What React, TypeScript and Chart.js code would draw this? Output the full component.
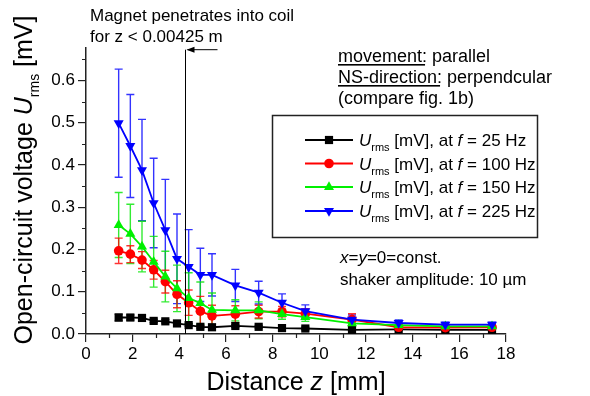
import React, { useEffect, useRef } from "react";
import { Chart, registerables } from "chart.js";

Chart.register(...registerables);

// ---- data ----
const distances = [1.4, 1.9, 2.4, 2.9, 3.4, 3.9, 4.4, 4.9, 5.4, 6.4, 7.4, 8.4, 9.4, 11.4, 13.4, 15.4, 17.4];

const u25 = [0.039, 0.039, 0.038, 0.031, 0.030, 0.025, 0.021, 0.017, 0.016, 0.019, 0.017, 0.014, 0.013, 0.010, 0.011, 0.010, 0.010];
const e25 = [0.008, 0.006, 0.006, 0.004, 0.004, 0.004, 0.003, 0.003, 0.003, 0.003, 0.003, 0.003, 0.003, 0.003, 0.003, 0.003, 0.003];

const u100 = [0.197, 0.189, 0.175, 0.152, 0.124, 0.094, 0.074, 0.054, 0.043, 0.047, 0.053, 0.053, 0.048, 0.034, 0.016, 0.015, 0.016];
const e100 = [0.030, 0.020, 0.020, 0.022, 0.027, 0.032, 0.030, 0.035, 0.025, 0.020, 0.015, 0.012, 0.012, 0.014, 0.006, 0.005, 0.005];

const u150 = [0.258, 0.237, 0.207, 0.171, 0.136, 0.108, 0.085, 0.073, 0.057, 0.056, 0.056, 0.047, 0.040, 0.025, 0.021, 0.018, 0.018];
const e150 = [0.077, 0.070, 0.060, 0.060, 0.060, 0.055, 0.060, 0.050, 0.040, 0.025, 0.020, 0.012, 0.010, 0.008, 0.006, 0.005, 0.005];

const u225 = [0.499, 0.445, 0.388, 0.310, 0.246, 0.178, 0.159, 0.140, 0.140, 0.115, 0.098, 0.074, 0.054, 0.034, 0.026, 0.022, 0.022];
const e225 = [0.128, 0.122, 0.120, 0.106, 0.120, 0.106, 0.088, 0.063, 0.050, 0.038, 0.027, 0.021, 0.015, 0.011, 0.007, 0.006, 0.006];

const frequencies = ["25", "100", "150", "225"];
const seriesColors = ["#000000", "#ff0000", "#00f000", "#0000ff"];
const errorColors = ["rgba(0,0,0,0.85)", "rgba(255,0,0,0.8)", "rgba(0,230,0,0.8)", "rgba(0,0,255,0.8)"];
const markerStyles = ["rect", "circle", "triangle", "triangle"];
const markerRotations = [0, 0, 0, 180];

const xMin = 0;
const xMax = 18;
const yMin = 0;
const yMax = 0.677;
const penetrationZ = 4.25;

const FONT = '"Liberation Sans", Arial, Helvetica, sans-serif';

type Run = { t: string; italic?: boolean; size?: number; dy?: number; underline?: boolean };

function drawRuns(ctx: CanvasRenderingContext2D, runs: Run[], x: number, y: number, base: number, align: "left" | "center" = "left") {
  const fontFor = (r: Run) => `${r.italic ? "italic " : ""}${r.size ?? base}px ${FONT}`;
  const widths = runs.map((r) => {
    ctx.font = fontFor(r);
    return ctx.measureText(r.t).width;
  });
  const total = widths.reduce((a, b) => a + b, 0);
  let cx = align === "center" ? x - total / 2 : x;
  runs.forEach((r, i) => {
    ctx.font = fontFor(r);
    ctx.fillText(r.t, cx, y + (r.dy ?? 0));
    if (r.underline) ctx.fillRect(cx, y + 2, widths[i] - 2, 1.6);
    cx += widths[i];
  });
}

function drawMarker(ctx: CanvasRenderingContext2D, style: string, rot: number, x: number, y: number, r: number, color: string) {
  ctx.save();
  ctx.fillStyle = color;
  ctx.beginPath();
  if (style === "rect") {
    const s = r * Math.SQRT1_2;
    ctx.rect(x - s, y - s, 2 * s, 2 * s);
  } else if (style === "circle") {
    ctx.arc(x, y, r, 0, Math.PI * 2);
  } else {
    const a = (rot * Math.PI) / 180;
    for (let k = 0; k < 3; k++) {
      const ang = a + (k * 2 * Math.PI) / 3;
      const px = x + Math.sin(ang) * r;
      const py = y - Math.cos(ang) * r;
      if (k === 0) ctx.moveTo(px, py);
      else ctx.lineTo(px, py);
    }
    ctx.closePath();
  }
  ctx.fill();
  ctx.restore();
}

const errorBarPlugin = {
  id: "errorBars",
  beforeDatasetsDraw(chart: any) {
    const { ctx, scales } = chart;
    const xs = scales.x;
    const ys = scales.y;
    const sets = chart.data.datasets.slice().reverse();
    sets.forEach((ds: any) => {
      ctx.save();
      ctx.strokeStyle = ds.errColor;
      ctx.lineWidth = 1.4;
      ds.data.forEach((p: any, j: number) => {
        const px = xs.getPixelForValue(p.x);
        const top = ys.getPixelForValue(p.y + ds.errors[j]);
        const bot = ys.getPixelForValue(Math.max(0, p.y - ds.errors[j]));
        ctx.beginPath();
        ctx.moveTo(px, top);
        ctx.lineTo(px, bot);
        ctx.moveTo(px - 4, top);
        ctx.lineTo(px + 4, top);
        ctx.moveTo(px - 4, bot);
        ctx.lineTo(px + 4, bot);
        ctx.stroke();
      });
      ctx.restore();
    });
  },
};

const decorPlugin = {
  id: "decor",
  afterDraw(chart: any) {
    const { ctx, scales, chartArea } = chart;
    const xs = scales.x;
    const ys = scales.y;
    ctx.save();
    ctx.fillStyle = "#000";
    ctx.strokeStyle = "#222";
    ctx.textBaseline = "alphabetic";

    // minor ticks
    ctx.lineWidth = 1.2;
    ctx.beginPath();
    for (let v = 1; v < xMax; v += 2) {
      const px = Math.round(xs.getPixelForValue(v)) + 0.5;
      ctx.moveTo(px, chartArea.bottom);
      ctx.lineTo(px, chartArea.bottom + 4);
    }
    for (let v = 0.05; v < yMax; v += 0.1) {
      const py = Math.round(ys.getPixelForValue(v)) + 0.5;
      ctx.moveTo(chartArea.left, py);
      ctx.lineTo(chartArea.left - 4, py);
    }
    ctx.stroke();

    // penetration line and arrow
    const lx = Math.round(xs.getPixelForValue(penetrationZ)) + 0.5;
    const arrowY = ys.getPixelForValue(0.673);
    ctx.strokeStyle = "#000";
    ctx.lineWidth = 1;
    ctx.beginPath();
    ctx.moveTo(lx, arrowY);
    ctx.lineTo(lx, chartArea.bottom);
    ctx.moveTo(lx + 2, arrowY);
    ctx.lineTo(lx + 32, arrowY);
    ctx.stroke();
    ctx.beginPath();
    ctx.moveTo(lx + 1, arrowY);
    ctx.lineTo(lx + 9, arrowY - 3);
    ctx.lineTo(lx + 9, arrowY + 3);
    ctx.closePath();
    ctx.fill();

    // texts
    drawRuns(ctx, [{ t: "Magnet penetrates into coil" }], 90, 21, 17);
    drawRuns(ctx, [{ t: "for z < 0.00425 m" }], 90, 42, 17);

    drawRuns(ctx, [{ t: "movement:", underline: true }, { t: " parallel" }], 338, 62, 18);
    drawRuns(ctx, [{ t: "NS-direction:", underline: true }, { t: " perpendcular" }], 338, 83, 18);
    drawRuns(ctx, [{ t: "(compare fig. 1b)" }], 338, 104, 18);

    drawRuns(ctx, [{ t: "x", italic: true }, { t: "=" }, { t: "y", italic: true }, { t: "=0=const." }], 340, 263, 17);
    drawRuns(ctx, [{ t: "shaker amplitude: 10 µm" }], 340, 285, 17);

    // legend
    ctx.strokeStyle = "#222";
    ctx.lineWidth = 1.5;
    ctx.strokeRect(272.5, 115.5, 265, 122);
    const rowY = [140, 163.5, 187, 211];
    for (let i = 0; i < 4; i++) {
      const ry = rowY[i];
      ctx.strokeStyle = seriesColors[i];
      ctx.lineWidth = 1.8;
      ctx.beginPath();
      ctx.moveTo(305, ry);
      ctx.lineTo(353, ry);
      ctx.stroke();
      drawMarker(ctx, markerStyles[i], markerRotations[i], 329, ry, i === 1 ? 4.8 : 5.8, seriesColors[i]);
      ctx.fillStyle = "#000";
      drawRuns(
        ctx,
        [
          { t: "U", italic: true },
          { t: "rms", size: 11, dy: 5 },
          { t: " [mV], at " },
          { t: "f", italic: true },
          { t: " = " + frequencies[i] + " Hz" },
        ],
        359,
        ry + 6,
        17
      );
    }

    // axis titles
    drawRuns(ctx, [{ t: "Distance " }, { t: "z", italic: true }, { t: " [mm]" }], 296, 390, 25, "center");
    ctx.save();
    ctx.translate(32, 180);
    ctx.rotate(-Math.PI / 2);
    drawRuns(
      ctx,
      [
        { t: "Open-circuit voltage " },
        { t: "U", italic: true },
        { t: "rms", size: 14, dy: 7 },
        { t: " [mV]" },
      ],
      0,
      0,
      25,
      "center"
    );
    ctx.restore();

    ctx.restore();
  },
};

export default function App() {
  const canvasRef = useRef<HTMLCanvasElement | null>(null);

  useEffect(() => {
    if (!canvasRef.current) return;
    const series = [
      { u: u25, e: e25 },
      { u: u100, e: e100 },
      { u: u150, e: e150 },
      { u: u225, e: e225 },
    ];
    const datasets = series.map((s, i) => ({
      label: `U rms [mV], at f = ${frequencies[i]} Hz`,
      data: distances.map((d, j) => ({ x: d, y: s.u[j] })),
      errors: s.e,
      errColor: errorColors[i],
      borderColor: seriesColors[i],
      backgroundColor: seriesColors[i],
      pointBackgroundColor: seriesColors[i],
      pointBorderColor: seriesColors[i],
      pointBorderWidth: 0,
      pointStyle: markerStyles[i],
      pointRotation: markerRotations[i],
      pointRadius: i === 1 ? 4.8 : 5.8,
      borderWidth: 1.8,
      tension: 0,
      order: 3 - i,
    }));

    const tickFont = { family: FONT, size: 17 };
    const chart = new Chart(canvasRef.current, {
      type: "line",
      data: { datasets } as any,
      options: {
        animation: false,
        responsive: false,
        devicePixelRatio: 1,
        layout: { padding: { top: 48, right: 84, left: 0, bottom: 0 } },
        plugins: { legend: { display: false }, tooltip: { enabled: false } },
        scales: {
          x: {
            type: "linear",
            min: xMin,
            max: xMax,
            border: { color: "#222", width: 1.5 },
            grid: { drawOnChartArea: false, drawTicks: true, tickLength: 8, color: "#222", lineWidth: 1.2 },
            ticks: { stepSize: 2, color: "#000", font: tickFont, padding: 2, includeBounds: false, maxRotation: 0 },
            afterFit: (s: any) => {
              s.height = 62;
            },
          },
          y: {
            type: "linear",
            min: yMin,
            max: yMax,
            border: { color: "#222", width: 1.5 },
            grid: { drawOnChartArea: false, drawTicks: true, tickLength: 8, color: "#222", lineWidth: 1.2 },
            ticks: {
              stepSize: 0.1,
              color: "#000",
              font: tickFont,
              padding: 3,
              includeBounds: false,
              callback: (v: any) => Number(v).toFixed(1),
            },
            afterFit: (s: any) => {
              s.width = 86;
            },
          },
        },
      } as any,
      plugins: [errorBarPlugin, decorPlugin],
    });
    return () => chart.destroy();
  }, []);

  return (
    <div style={{ position: "absolute", left: 0, top: 0, width: 590, height: 396, background: "#fff" }}>
      <canvas ref={canvasRef} width={590} height={396} style={{ display: "block" }} />
    </div>
  );
}
